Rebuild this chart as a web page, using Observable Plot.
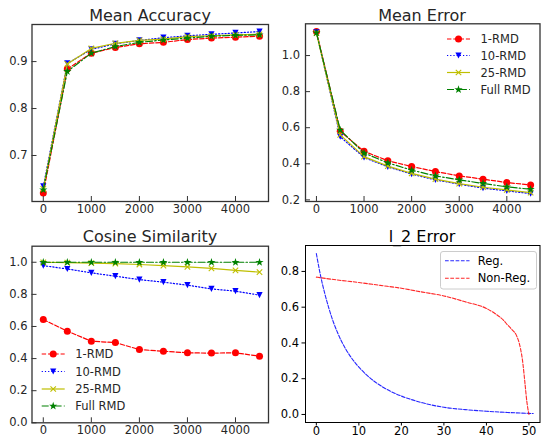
<!DOCTYPE html>
<html><head><meta charset="utf-8">
<script src="https://cdn.jsdelivr.net/npm/d3@7"></script>
<script src="https://cdn.jsdelivr.net/npm/@observablehq/plot@0.6"></script>
<style>
body{margin:0;background:#fff;}
#chart{position:relative;width:542px;height:438px;font-family:"DejaVu Sans",sans-serif;overflow:hidden;background:#fff}
#chart svg{position:absolute}
</style></head><body><div id="chart"></div>
<script>
// ---------------- data ----------------
const iterations = [0, 500, 1000, 1500, 2000, 2500, 3000, 3500, 4000, 4500];
const seriesNames = ["1-RMD", "10-RMD", "25-RMD", "Full RMD"];

const accuracy1RMD    = [0.620, 0.884, 0.918, 0.930, 0.938, 0.941, 0.947, 0.950, 0.952, 0.954];
const accuracy10RMD   = [0.634, 0.896, 0.926, 0.938, 0.945, 0.951, 0.955, 0.958, 0.961, 0.964];
const accuracy25RMD   = [0.629, 0.895, 0.928, 0.939, 0.945, 0.948, 0.953, 0.955, 0.957, 0.958];
const accuracyFullRMD = [0.627, 0.879, 0.918, 0.932, 0.941, 0.946, 0.950, 0.954, 0.956, 0.957];

const error1RMD    = [1.133, 0.580, 0.469, 0.417, 0.385, 0.357, 0.333, 0.315, 0.296, 0.283];
const error10RMD   = [1.128, 0.550, 0.435, 0.383, 0.343, 0.311, 0.287, 0.265, 0.250, 0.235];
const error25RMD   = [1.125, 0.560, 0.440, 0.387, 0.347, 0.315, 0.290, 0.270, 0.255, 0.240];
const errorFullRMD = [1.126, 0.587, 0.460, 0.405, 0.365, 0.333, 0.311, 0.291, 0.272, 0.259];

const cosine1RMD    = [0.643, 0.571, 0.508, 0.500, 0.456, 0.446, 0.436, 0.434, 0.436, 0.415];
const cosine10RMD   = [0.979, 0.958, 0.934, 0.913, 0.892, 0.876, 0.857, 0.834, 0.820, 0.795];
const cosine25RMD   = [1.000, 0.998, 0.995, 0.992, 0.986, 0.979, 0.971, 0.962, 0.950, 0.938];
const cosineFullRMD = [1.000, 1.000, 1.000, 1.000, 1.000, 1.000, 1.000, 1.000, 1.000, 1.000];

const l2StepsReg = [0, 1, 2, 3, 4, 5, 6, 7, 8, 9, 10, 12, 14, 16, 18, 20, 22, 25, 30, 35, 40, 45, 50, 51];
const l2Reg      = [0.900, 0.775, 0.675, 0.590, 0.517, 0.457, 0.405, 0.362, 0.325, 0.293, 0.265, 0.217, 0.179, 0.148, 0.123, 0.103, 0.086, 0.065, 0.040, 0.027, 0.018, 0.011, 0.006, 0.005];
const l2StepsNonReg = [0, 5, 10, 15, 20, 25, 30, 35, 40, 42, 44, 45, 46, 47, 48, 48.5, 49, 49.5, 50];
const l2NonReg      = [0.768, 0.752, 0.738, 0.722, 0.706, 0.684, 0.663, 0.630, 0.593, 0.565, 0.527, 0.500, 0.475, 0.445, 0.370, 0.300, 0.190, 0.073, 0.000];

const iterTicks = [0, 1000, 2000, 3000, 4000];
const accTicks = [0.7, 0.8, 0.9];
const errTicks = [0.2, 0.4, 0.6, 0.8, 1.0];
const cosTicks = [0.0, 0.2, 0.4, 0.6, 0.8, 1.0];
const l2TicksX = [0, 10, 20, 30, 40, 50];
const l2TicksY = [0.0, 0.2, 0.4, 0.6, 0.8];

const titles = ["Mean Accuracy", "Mean Error", "Cosine Similarity", "l_2 Error"];
const l2Names = ["Reg.", "Non-Reg."];

// ---------------- styles ----------------
const triDown = {draw(ctx, size) {
  const a = Math.sqrt(size) / 2;
  ctx.moveTo(0, a); ctx.lineTo(-a, -a); ctx.lineTo(a, -a); ctx.closePath();
}};
const seriesColors = ["#ff0000", "#0000ff", "#bfbf00", "#008000"];
const seriesDash = ["4.4,1.9", "1.2,2", null, "7,2.2,1.5,2.2"];
const seriesSymbol = ["circle", triDown, "times", "star"];
const seriesR = [3.5, 3.5, 2.6, 2.6];
const d3Symbol = [d3.symbolCircle, triDown, d3.symbolTimes, d3.symbolStar];
const frameColor = "#333333";
const textColor = "#262626";

const chart = document.getElementById("chart");

function seriesMarks(values) {
  const marks = [];
  values.forEach((vals, i) => {
    const rows = iterations.map((x, j) => ({x, y: vals[j], s: seriesNames[i]}));
    marks.push(Plot.line(rows, {x: "x", y: "y", stroke: seriesColors[i], strokeWidth: 1.2,
      strokeDasharray: seriesDash[i] || undefined}));
    const isStroke = seriesSymbol[i] === "times";
    marks.push(Plot.dot(rows, {x: "x", y: "y", symbol: seriesSymbol[i], r: seriesR[i],
      fill: isStroke ? "none" : seriesColors[i], stroke: isStroke ? seriesColors[i] : "none",
      strokeWidth: isStroke ? 1.1 : 0}));
  });
  return marks;
}

function rmdPanel({left, top, width, height, margins, xDomain, yDomain, yTicks, values, yPad}) {
  const svg = Plot.plot({
    width, height,
    marginLeft: margins[0], marginRight: margins[1], marginTop: margins[2], marginBottom: margins[3],
    x: {domain: xDomain},
    y: {domain: yDomain},
    style: {fontFamily: "DejaVu Sans", fontSize: "11.5px", color: textColor, background: "transparent", overflow: "visible"},
    marks: [
      ...seriesMarks(values),
      Plot.axisX({ticks: iterTicks, tickSize: 0, tickPadding: 3, tickFormat: d => String(d), label: null, fill: textColor}),
      Plot.axisX({ticks: iterTicks, tickSize: 5, dy: -5, tickFormat: () => "", label: null, stroke: frameColor}),
      Plot.axisY({ticks: yTicks, tickSize: 0, tickPadding: yPad, tickFormat: d3.format(".1f"), label: null, fill: textColor}),
      Plot.axisY({ticks: yTicks, tickSize: 5, dx: 5, tickFormat: () => "", label: null, stroke: frameColor}),
      Plot.frame({stroke: frameColor, strokeWidth: 1.3})
    ]
  });
  svg.style.left = left + "px"; svg.style.top = top + "px";
  chart.appendChild(svg);
}

rmdPanel({left: 0, top: 0, width: 271, height: 219, margins: [31.5, 3, 24, 18],
  xDomain: [-235, 4687], yDomain: [0.602, 0.979], yTicks: accTicks, yPad: 4.5,
  values: [accuracy1RMD, accuracy10RMD, accuracy25RMD, accuracyFullRMD]});
rmdPanel({left: 271, top: 0, width: 271, height: 219, margins: [34, 2.5, 23.3, 18],
  xDomain: [-230, 4697], yDomain: [0.191, 1.176], yTicks: errTicks, yPad: 5.5,
  values: [error1RMD, error10RMD, error25RMD, errorFullRMD]});
rmdPanel({left: 0, top: 219, width: 271, height: 219, margins: [31.5, 3, 26.7, 15.7],
  xDomain: [-235, 4687], yDomain: [0, 1.1], yTicks: cosTicks, yPad: 4.5,
  values: [cosine1RMD, cosine10RMD, cosine25RMD, cosineFullRMD]});

// l_2 error panel
{
  const reg = l2StepsReg.map((x, i) => ({x, y: l2Reg[i]}));
  const non = l2StepsNonReg.map((x, i) => ({x, y: l2NonReg[i]}));
  const svg = Plot.plot({
    width: 271, height: 219,
    marginLeft: 34, marginRight: 2.5, marginTop: 26, marginBottom: 16,
    x: {domain: [-2.55, 52.6]},
    y: {domain: [-0.045, 0.945]},
    style: {fontFamily: "DejaVu Sans", fontSize: "11.5px", color: "#000", background: "transparent", overflow: "visible"},
    marks: [
      Plot.line(reg, {x: "x", y: "y", stroke: "#0000ff", strokeOpacity: 0.85, strokeWidth: 1.1, strokeDasharray: "3.7,1.6", curve: "monotone-x"}),
      Plot.line(non, {x: "x", y: "y", stroke: "#ff0000", strokeOpacity: 0.85, strokeWidth: 1.1, strokeDasharray: "3.7,1.6", curve: "monotone-x"}),
      Plot.axisX({ticks: l2TicksX, tickSize: 3.5, tickPadding: 1, tickFormat: d => String(d), label: null}),
      Plot.axisY({ticks: l2TicksY, tickSize: 3.5, tickPadding: 3, tickFormat: d3.format(".1f"), label: null}),
      Plot.frame({stroke: "#000", strokeWidth: 1})
    ]
  });
  svg.style.left = "271px"; svg.style.top = "219px";
  chart.appendChild(svg);
}

// ---------------- titles & legends overlay ----------------
const ov = d3.select(chart).append("svg").attr("width", 542).attr("height", 438)
  .style("left", "0px").style("top", "0px").style("font-family", "DejaVu Sans");

const titlePos = [[150, 20.5], [422, 20.5], [150, 242], [422, 241.5]];
titles.forEach((t, i) => {
  ov.append("text").attr("x", titlePos[i][0]).attr("y", titlePos[i][1])
    .attr("text-anchor", "middle").attr("font-size", 16)
    .attr("fill", i === 3 ? "#000" : textColor).text(t);
});

function rmdLegend(x0, rows) {
  seriesNames.forEach((name, i) => {
    const y = rows[i];
    const g = ov.append("g");
    g.append("line").attr("x1", x0).attr("x2", x0 + 23).attr("y1", y).attr("y2", y)
      .attr("stroke", seriesColors[i]).attr("stroke-width", 1.2)
      .attr("stroke-dasharray", seriesDash[i]);
    const isStroke = i === 2;
    g.append("path").attr("transform", `translate(${x0 + 11.5},${y})`)
      .attr("d", d3.symbol(d3Symbol[i], Math.PI * seriesR[i] * seriesR[i])())
      .attr("fill", isStroke ? "none" : seriesColors[i])
      .attr("stroke", isStroke ? seriesColors[i] : "none").attr("stroke-width", 1.1);
    g.append("text").attr("x", x0 + 33.5).attr("y", y).attr("dy", "0.36em")
      .attr("font-size", 11.5).attr("fill", textColor).text(name);
  });
}
rmdLegend(447, [39, 55.5, 72.5, 89.5]);
rmdLegend(41.7, [354, 371.5, 389, 406]);

// l_2 legend
{
  ov.append("rect").attr("x", 440.5).attr("y", 251.5).attr("width", 96).attr("height", 37.5)
    .attr("rx", 2.5).attr("fill", "#fff").attr("fill-opacity", 0.8).attr("stroke", "#cccccc").attr("stroke-width", 1);
  const cols = ["#0000ff", "#ff0000"];
  const rows = [260.7, 278.3];
  l2Names.forEach((n, i) => {
    ov.append("line").attr("x1", 445).attr("x2", 469.5).attr("y1", rows[i]).attr("y2", rows[i])
      .attr("stroke", cols[i]).attr("stroke-opacity", 0.85).attr("stroke-width", 1.1).attr("stroke-dasharray", "3.7,1.6");
    ov.append("text").attr("x", 477.7).attr("y", rows[i]).attr("dy", "0.36em")
      .attr("font-size", 11.5).attr("fill", "#000").text(n);
  });
}
</script></body></html>
